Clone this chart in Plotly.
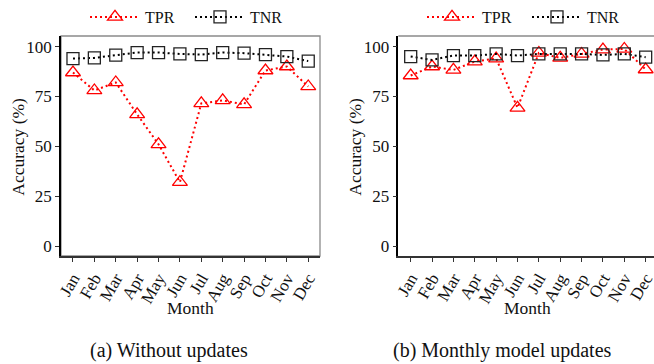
import plotly.graph_objects as go

months = ["Jan", "Feb", "Mar", "Apr", "May", "Jun", "Jul", "Aug", "Sep", "Oct", "Nov", "Dec"]
tpr_no_update = [87, 78, 82, 66, 51, 32, 71.5, 73, 71, 88, 90, 80]
tnr_no_update = [94, 94.3, 95.7, 97, 97, 96.3, 96, 97, 96.7, 96, 95, 92.7]
tpr_monthly = [85.5, 90, 88.3, 92.5, 94, 69.3, 96.8, 94.3, 96.3, 98.5, 98.8, 88.5]
tnr_monthly = [95, 93.3, 95.5, 95.5, 96.3, 95.5, 96.3, 96.3, 96.3, 95.8, 96.3, 94.7]
y_ticks = [0, 25, 50, 75, 100]
captions = ["(a) Without updates", "(b) Monthly model updates"]

FONT = "Liberation Serif"
W, H = 654, 364
x_idx = list(range(len(months)))

fig = go.Figure()

panels = [
    dict(tpr=tpr_no_update, tnr=tnr_no_update, xa="x", ya="y", leg="legend"),
    dict(tpr=tpr_monthly, tnr=tnr_monthly, xa="x2", ya="y2", leg="legend2"),
]
for p in panels:
    fig.add_trace(go.Scatter(
        x=x_idx, y=p["tpr"], name="TPR", mode="lines+markers",
        line=dict(color="#ff0000", width=2, dash="2px,3px"),
        marker=dict(symbol="triangle-up-open", size=13, color="#ff0000", line=dict(width=1.3, color="#ff0000")),
        xaxis=p["xa"], yaxis=p["ya"], legend=p["leg"], cliponaxis=False))
    fig.add_trace(go.Scatter(
        x=x_idx, y=p["tnr"], name="TNR", mode="lines+markers",
        line=dict(color="#000000", width=2, dash="2px,3px"),
        marker=dict(symbol="square-open", size=12, color="#222222", line=dict(width=1.3, color="#222222")),
        xaxis=p["xa"], yaxis=p["ya"], legend=p["leg"], cliponaxis=False))

tickfont = dict(family=FONT, size=17, color="#111")
y_dom = [(H - 256) / H, (H - 36) / H]

common_x = dict(tickmode="array", tickvals=x_idx, ticktext=months, tickangle=-60,
                ticks="outside", ticklen=4, tickcolor="#333", tickwidth=1.2,
                showline=True, linecolor="#333", linewidth=1.5, showgrid=False,
                zeroline=False, tickfont=tickfont, automargin=False,
                ticklabeloverflow="allow")
common_y = dict(tickmode="array", tickvals=y_ticks, range=[-5, 105.3],
                ticks="outside", ticklen=4, tickcolor="#333", tickwidth=1.2,
                showline=True, linecolor="#000", linewidth=1.5, showgrid=False,
                zeroline=False, tickfont=tickfont, domain=y_dom, automargin=False)

legend_style = dict(orientation="h", y=1.0, xanchor="left", yanchor="top",
                    font=dict(family=FONT, size=16, color="#111"), bgcolor="rgba(0,0,0,0)",
                    entrywidth=40, itemwidth=50)

fig.update_layout(
    template="none",
    width=W, height=H, margin=dict(l=0, r=0, t=0, b=0, pad=0), autosize=False,
    paper_bgcolor="white", plot_bgcolor="white",
    font=dict(family=FONT, size=17, color="#111"),
    xaxis=dict(common_x, domain=[61 / W, 320 / W], range=[-0.56, 11.55], anchor="y"),
    yaxis=dict(common_y, anchor="x"),
    xaxis2=dict(common_x, domain=[398.3 / W, 1.0], range=[-0.58, 11.39], anchor="y2"),
    yaxis2=dict(common_y, anchor="x2"),
    legend=dict(legend_style, x=85 / W),
    legend2=dict(legend_style, x=422 / W),
)

# gray frame (top/right) around plot areas
fig.add_shape(type="rect", xref="x domain", yref="y domain", x0=0, x1=1, y0=0, y1=1,
              line=dict(color="#8a8a8a", width=1.3), layer="below")
fig.add_shape(type="line", xref="x2 domain", yref="y2 domain", x0=0, x1=1, y0=1, y1=1,
              line=dict(color="#8a8a8a", width=1.3), layer="below")

# axis titles and captions
ann = [
    dict(text="Accuracy (%)", x=18 / W, y=(H - 146.7) / H, textangle=-90, size=17.5),
    dict(text="Accuracy (%)", x=355 / W, y=(H - 146.7) / H, textangle=-90, size=17.5),
    dict(text="Month", x=190.5 / W, y=(H - 308) / H, textangle=0, size=17.5),
    dict(text="Month", x=527.5 / W, y=(H - 308) / H, textangle=0, size=17.5),
    dict(text=captions[0], x=169 / W, y=(H - 350) / H, textangle=0, size=20),
    dict(text=captions[1], x=502 / W, y=(H - 350) / H, textangle=0, size=20),
]
for a in ann:
    fig.add_annotation(text=a["text"], x=a["x"], y=a["y"], xref="paper", yref="paper",
                       showarrow=False, textangle=a["textangle"], xanchor="center", yanchor="middle",
                       font=dict(family=FONT, size=a["size"], color="#111"))

fig.write_html("out.html", config={"displayModeBar": False},
               post_script="document.body.style.margin='0px';document.body.style.overflow='hidden';")
